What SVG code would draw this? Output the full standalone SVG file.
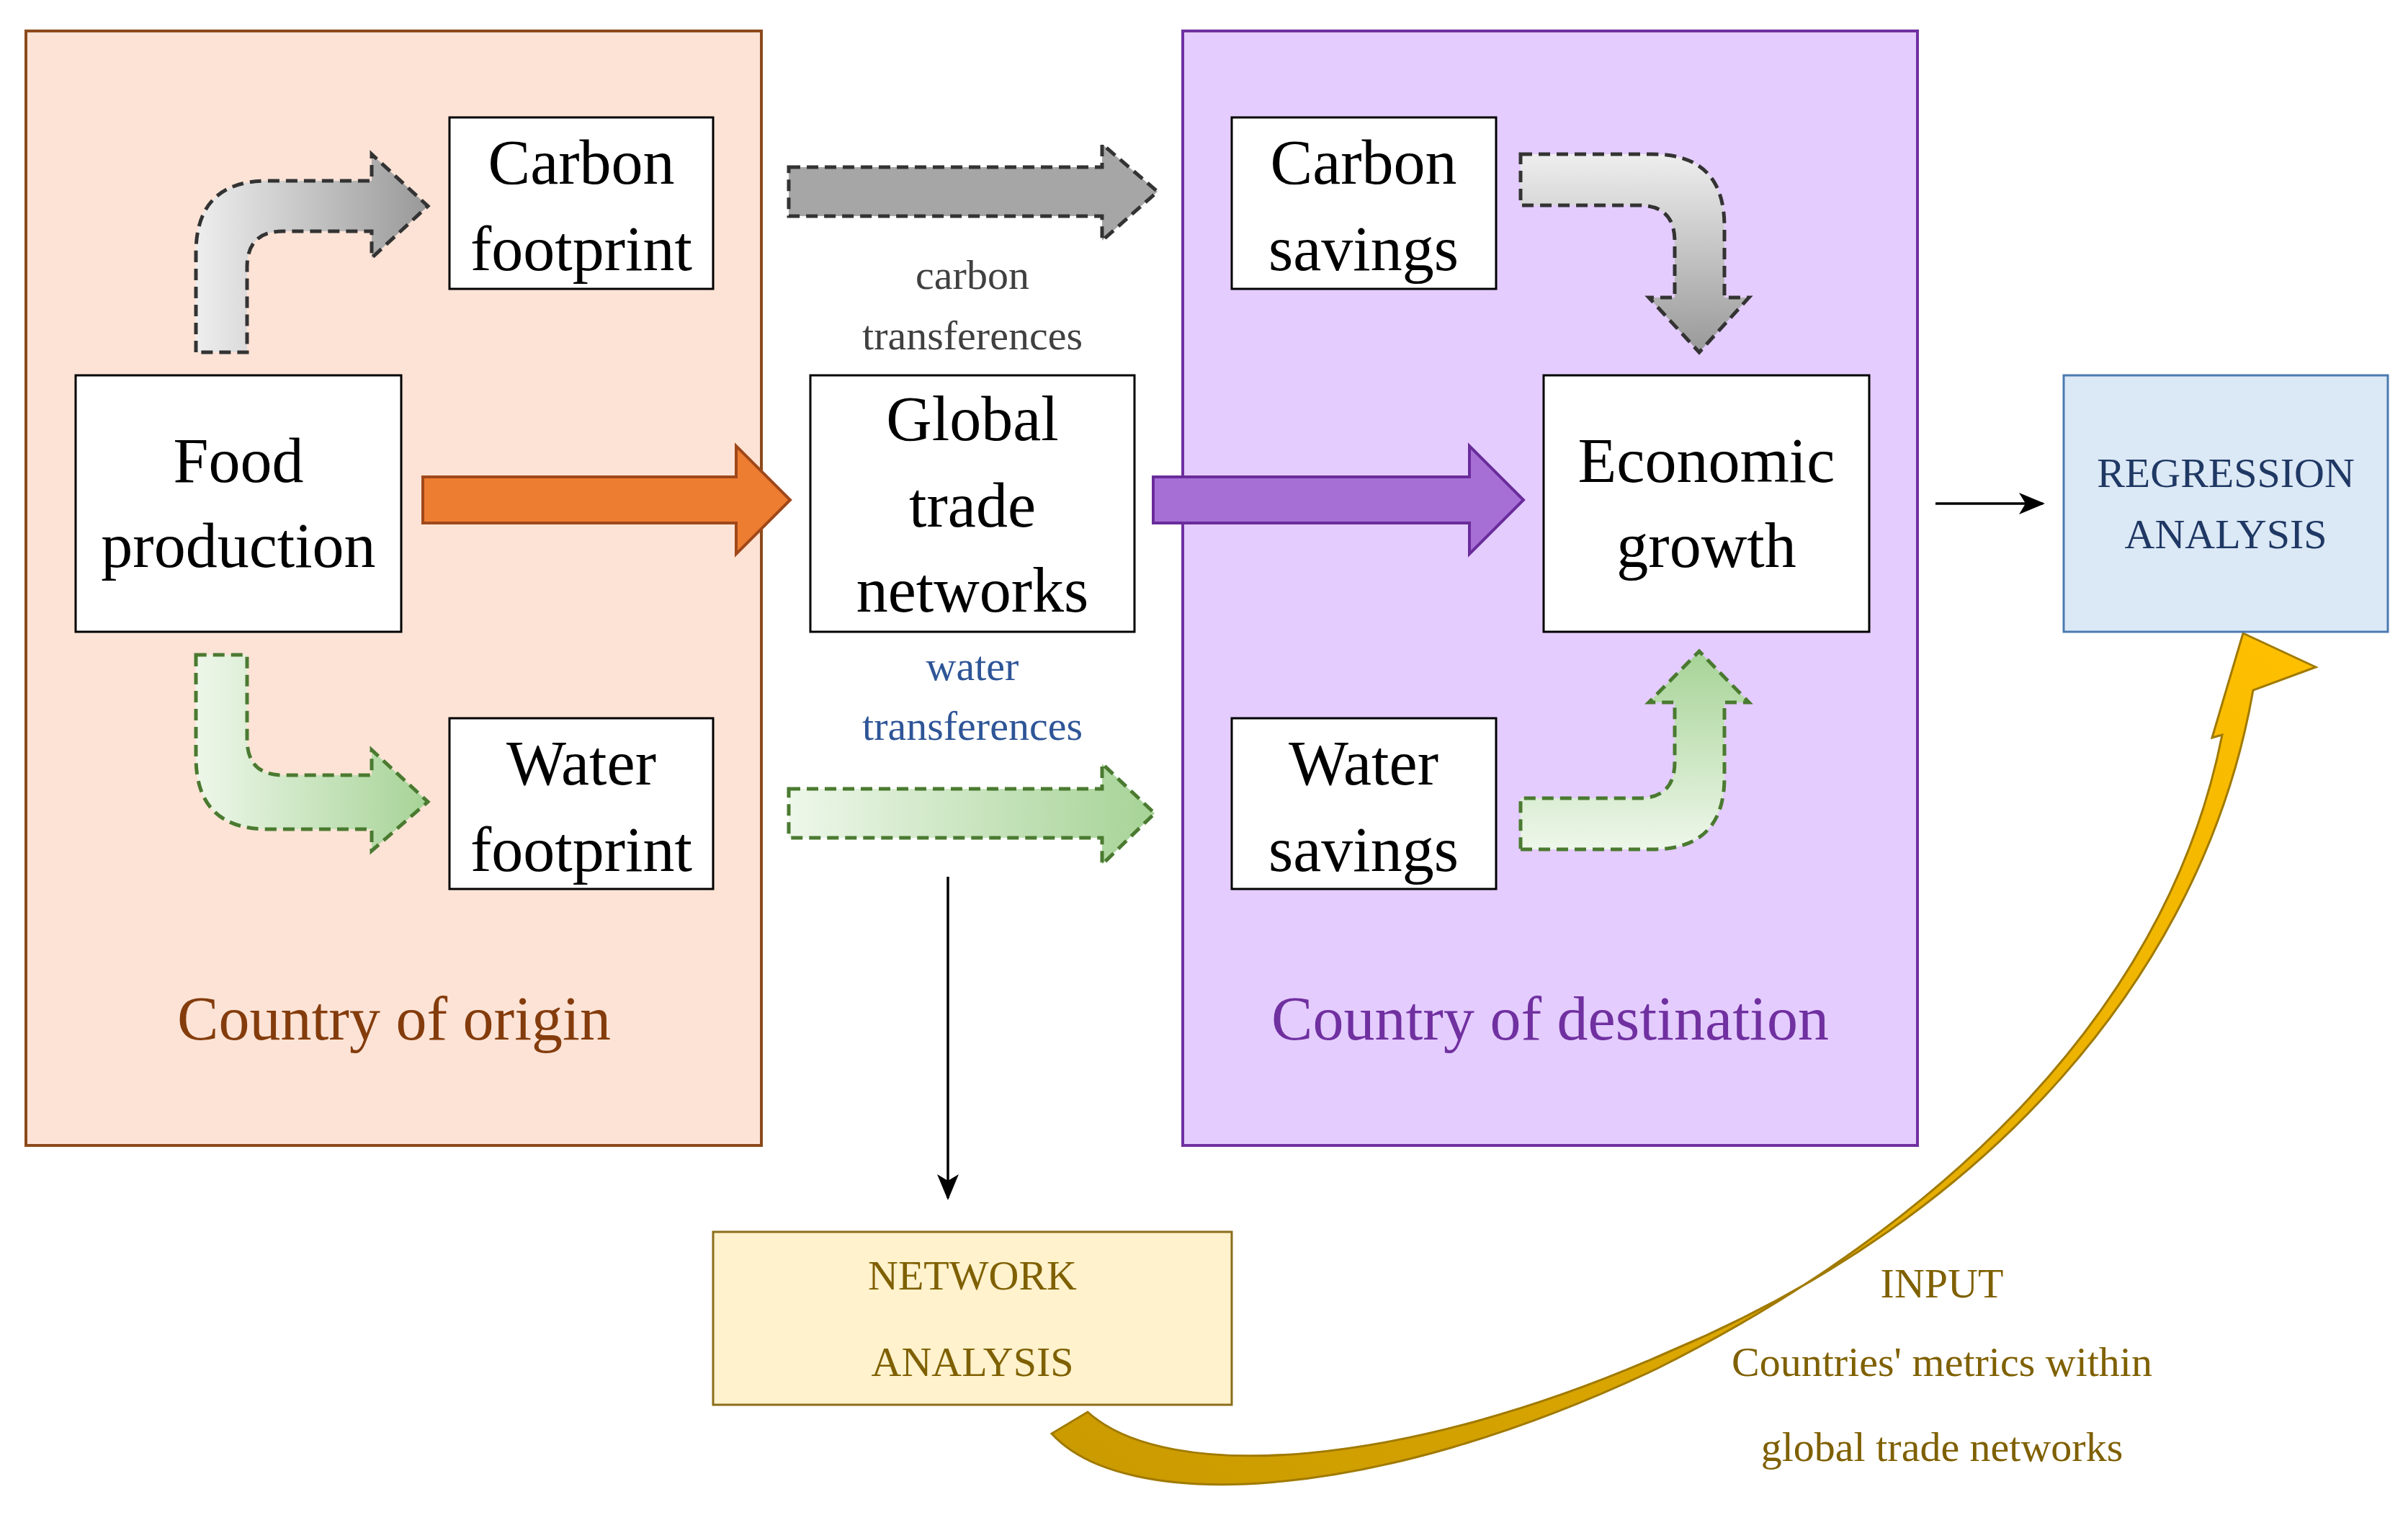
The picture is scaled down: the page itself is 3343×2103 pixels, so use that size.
<svg xmlns="http://www.w3.org/2000/svg" width="3343" height="2103" viewBox="0 0 3343 2103">
<defs>
<linearGradient id="gH" x1="0" y1="0" x2="1" y2="0"><stop offset="0" stop-color="#eeeeee"/><stop offset="1" stop-color="#999999"/></linearGradient>
<linearGradient id="gV" x1="0" y1="0" x2="0" y2="1"><stop offset="0" stop-color="#eeeeee"/><stop offset="1" stop-color="#999999"/></linearGradient>
<linearGradient id="gnH" x1="0" y1="0" x2="1" y2="0"><stop offset="0" stop-color="#eef7ea"/><stop offset="1" stop-color="#a6d396"/></linearGradient>
<linearGradient id="gnV" x1="0" y1="1" x2="0" y2="0"><stop offset="0" stop-color="#eef7ea"/><stop offset="1" stop-color="#a6d396"/></linearGradient>
<linearGradient id="gd" x1="0" y1="1" x2="1" y2="0"><stop offset="0" stop-color="#c99a00"/><stop offset="1" stop-color="#ffc000"/></linearGradient>
<marker id="blk" viewBox="0 0 12 10" refX="11" refY="5" markerWidth="36" markerHeight="30" orient="auto" markerUnits="userSpaceOnUse"><path d="M0,0 L12,5 L0,10 L3,5 Z" fill="#000"/></marker>
</defs>
<style>
text{font-family:"Liberation Serif","DejaVu Serif",serif;text-anchor:middle;dominant-baseline:central}
.n{fill:#fff;stroke:#000;stroke-width:3}
.t{font-size:88px;fill:#000}
.s{font-size:58px}
.dg{stroke:#333;stroke-width:5;stroke-dasharray:16 9}
.dn{stroke:#4a7a30;stroke-width:5;stroke-dasharray:16 9}
</style>
<rect width="3343" height="2103" fill="#fff"/>
<g id="origin"><rect x="36" y="43" width="1021" height="1547" fill="#fde3d6" stroke="#8c4a1c" stroke-width="4"/><text x="547" y="1414" font-size="86" fill="#843c0c">Country of origin</text></g>
<g id="destination"><rect x="1642" y="43" width="1020" height="1547" fill="#e4ccff" stroke="#7030a0" stroke-width="4"/><text x="2152" y="1414" font-size="86" fill="#7030a0">Country of destination</text></g>
<g id="connectors">
<path class="dg" fill="url(#gH)" d="M272,489 L272,351 Q272,251 372,251 L516,251 L516,214 L594,286 L516,358 L516,321 L393,321 Q343,321 343,371 L343,489 Z"/>
<path class="dn" fill="url(#gnH)" d="M272,909 L272,1051 Q272,1151 372,1151 L516,1151 L516,1181 L594,1113 L516,1041 L516,1076 L393,1076 Q343,1076 343,1026 L343,909 Z"/>
<path class="dg" fill="url(#gV)" d="M2111,214 L2294,214 Q2394,214 2394,314 L2394,413 L2428,413 L2359,489 L2289,413 L2325,413 L2325,335 Q2325,285 2275,285 L2111,285 Z"/>
<path class="dn" fill="url(#gnV)" d="M2111,1179 L2294,1179 Q2394,1179 2394,1079 L2394,975 L2428,975 L2359,904 L2289,975 L2325,975 L2325,1058 Q2325,1108 2275,1108 L2111,1108 Z"/>
<path class="dg" fill="#a6a6a6" d="M1095,232 L1530,232 L1530,200 L1607,266 L1530,334 L1530,300 L1095,300 Z"/>
<path class="dn" fill="url(#gnH)" d="M1095,1095 L1530,1095 L1530,1060 L1603,1129 L1530,1200 L1530,1163 L1095,1163 Z"/>
<path fill="#ed7d31" stroke="#a0481a" stroke-width="4" d="M587,662 L1022,662 L1022,619 L1097,694 L1022,769 L1022,726 L587,726 Z"/>
<path fill="#a66fd6" stroke="#6a2c9a" stroke-width="4" d="M1601,662 L2040,662 L2040,619 L2115,694 L2040,769 L2040,726 L1601,726 Z"/>
<line x1="2687" y1="699" x2="2836" y2="699" stroke="#000" stroke-width="3.5" marker-end="url(#blk)"/>
<line x1="1316" y1="1217" x2="1316" y2="1663" stroke="#000" stroke-width="3.5" marker-end="url(#blk)"/>
<path fill="url(#gd)" stroke="#a07a00" stroke-width="3" d="M1460,1990 C1560,2100 1900,2090 2300,1900 C2700,1700 3010,1400 3085,1020 L3071,1024 L3114,879 L3215,926 L3128,958 C3060,1350 2760,1690 2320,1875 C1950,2040 1620,2060 1510,1960 Z"/>
</g>
<g id="carbon-footprint"><rect class="n" x="624" y="163" width="366" height="238"/><text class="t" x="807" y="225">Carbon</text><text class="t" x="807" y="345">footprint</text></g>
<g id="food-production"><rect class="n" x="105" y="521" width="452" height="356"/><text class="t" x="331" y="639">Food</text><text class="t" x="331" y="757">production</text></g>
<g id="water-footprint"><rect class="n" x="624" y="997" width="366" height="237"/><text class="t" x="807" y="1059">Water</text><text class="t" x="807" y="1179">footprint</text></g>
<g id="global-trade"><rect class="n" x="1125" y="521" width="450" height="356"/><text class="t" x="1350" y="581">Global</text><text class="t" x="1350" y="701">trade</text><text class="t" x="1350" y="819">networks</text></g>
<g id="carbon-savings"><rect class="n" x="1710" y="163" width="367" height="238"/><text class="t" x="1893" y="225">Carbon</text><text class="t" x="1893" y="345">savings</text></g>
<g id="economic-growth"><rect class="n" x="2143" y="521" width="452" height="356"/><text class="t" x="2369" y="639">Economic</text><text class="t" x="2369" y="757">growth</text></g>
<g id="water-savings"><rect class="n" x="1710" y="997" width="367" height="237"/><text class="t" x="1893" y="1059">Water</text><text class="t" x="1893" y="1179">savings</text></g>
<g id="regression"><rect x="2865" y="521" width="450" height="356" fill="#dbe8f5" stroke="#4a7ab0" stroke-width="3"/><text class="s" x="3090" y="656" fill="#1f3864">REGRESSION</text><text class="s" x="3090" y="741" fill="#1f3864">ANALYSIS</text></g>
<g id="network"><rect x="990" y="1710" width="720" height="240" fill="#fff2cc" stroke="#8b6d1a" stroke-width="3"/><text class="s" x="1350" y="1770" fill="#7f6000">NETWORK</text><text class="s" x="1350" y="1890" fill="#7f6000">ANALYSIS</text></g>
<g id="labels">
<text class="s" x="1350" y="381" fill="#404040">carbon</text><text class="s" x="1350" y="465" fill="#404040">transferences</text>
<text class="s" x="1350" y="924" fill="#2e5597">water</text><text class="s" x="1350" y="1007" fill="#2e5597">transferences</text>
<text class="s" x="2696" y="1781" fill="#7f6000">INPUT</text><text class="s" x="2696" y="1890" fill="#7f6000">Countries' metrics within</text><text class="s" x="2696" y="2008" fill="#7f6000">global trade networks</text>
</g>
</svg>
